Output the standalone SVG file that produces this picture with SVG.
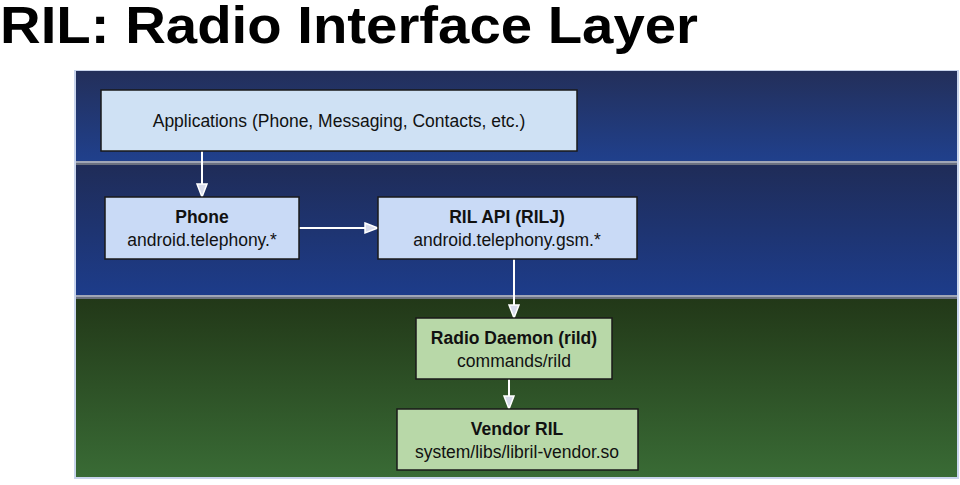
<svg xmlns="http://www.w3.org/2000/svg" width="960" height="485" viewBox="0 0 960 485">
<defs>
<linearGradient id="g1" x1="0" y1="0" x2="0" y2="1"><stop offset="0" stop-color="#232f5a"/><stop offset="1" stop-color="#20408c"/></linearGradient>
<linearGradient id="g2" x1="0" y1="0" x2="0" y2="1"><stop offset="0" stop-color="#1f2c58"/><stop offset="1" stop-color="#1d3c8a"/></linearGradient>
<linearGradient id="g3" x1="0" y1="0" x2="0" y2="1"><stop offset="0" stop-color="#223818"/><stop offset="1" stop-color="#396b35"/></linearGradient>
<marker id="ah" markerWidth="16" markerHeight="14" refX="14" refY="7" orient="auto" markerUnits="userSpaceOnUse"><path d="M1,2 L14,7 L1,12 Z" fill="#d8dcec" stroke="#ffffff" stroke-width="1.5"/></marker>
</defs>
<style>
.t{font-family:"Liberation Sans",Arial,sans-serif;font-size:17.5px;fill:#111;text-anchor:middle}
.b{font-weight:bold}
.bl{fill:#cfe1f4;stroke:#1a1a1a;stroke-width:1.5}
.bl2{fill:#c9daf6;stroke:#1a1a1a;stroke-width:1.5}
.gr{fill:#b8d8a8;stroke:#1a1a1a;stroke-width:1.5}
.c{stroke:#ffffff;stroke-width:2;fill:none;marker-end:url(#ah)}
</style>
<rect width="960" height="485" fill="#ffffff"/>
<text x="0" y="43" font-family="Liberation Sans,Arial,sans-serif" font-weight="bold" font-size="52" textLength="698" lengthAdjust="spacingAndGlyphs" fill="#000">RIL: Radio Interface Layer</text>
<g id="background">
<rect x="74" y="70" width="885" height="409" fill="#c8d4ec"/>
<rect x="76" y="71" width="881" height="90" fill="url(#g1)"/>
<rect x="76" y="161" width="881" height="2" fill="#a0a6b6"/>
<rect x="76" y="163" width="881" height="2" fill="#6a7080"/>
<rect x="76" y="165" width="881" height="130" fill="url(#g2)"/>
<rect x="76" y="295" width="881" height="2" fill="#a0a6b6"/>
<rect x="76" y="297" width="881" height="2" fill="#6a7080"/>
<rect x="76" y="299" width="881" height="178" fill="url(#g3)"/>
</g>
<g id="connectors">
<line class="c" x1="202" y1="151" x2="202" y2="197"/>
<line class="c" x1="299" y1="228" x2="378" y2="228"/>
<line class="c" x1="514" y1="259" x2="514" y2="318"/>
<line class="c" x1="509" y1="379" x2="509" y2="409"/>
</g>
<g id="applications">
<rect class="bl" x="101" y="90" width="476" height="61"/>
<text class="t" x="339" y="127">Applications (Phone, Messaging, Contacts, etc.)</text>
</g>
<g id="phone">
<rect class="bl2" x="105" y="197" width="194" height="62"/>
<text class="t b" x="202" y="223">Phone</text>
<text class="t" x="202" y="246">android.telephony.*</text>
</g>
<g id="rilj">
<rect class="bl2" x="378" y="197" width="259" height="62"/>
<text class="t b" x="507" y="223">RIL API (RILJ)</text>
<text class="t" x="507" y="246">android.telephony.gsm.*</text>
</g>
<g id="rild">
<rect class="gr" x="416" y="318" width="196" height="61"/>
<text class="t b" x="514" y="344">Radio Daemon (rild)</text>
<text class="t" x="514" y="367">commands/rild</text>
</g>
<g id="vendor">
<rect class="gr" x="397" y="409" width="241" height="61"/>
<text class="t b" x="517" y="435">Vendor RIL</text>
<text class="t" x="517" y="458">system/libs/libril-vendor.so</text>
</g>
</svg>
